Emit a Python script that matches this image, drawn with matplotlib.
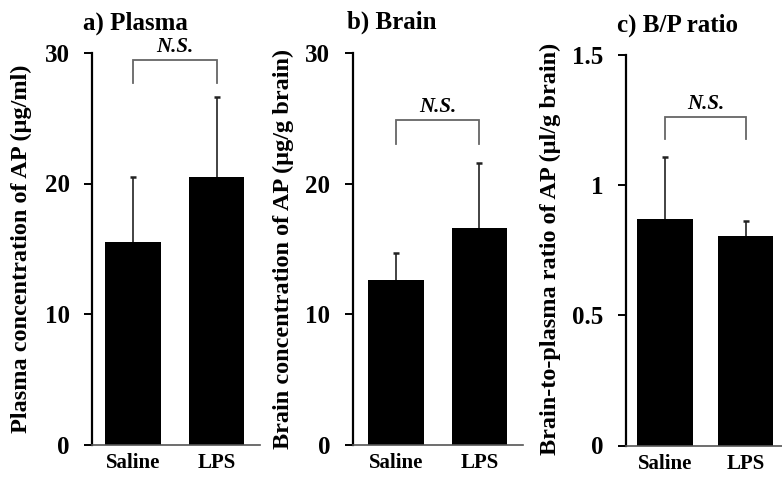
import matplotlib
matplotlib.use("Agg")
import matplotlib.pyplot as plt

# ---- data ----
groups = ["Saline", "LPS"]
plasma_mean = [15.5, 20.5]
plasma_sd = [5.0, 6.1]
brain_mean = [12.6, 16.6]
brain_sd = [2.1, 5.0]
ratio_mean = [0.87, 0.805]
ratio_sd = [0.24, 0.057]

titles = ["a) Plasma", "b) Brain", "c) B/P ratio"]
ylabels = ["Plasma concentration of AP (\u00b5g/ml)",
           "Brain concentration of AP (\u00b5g/g brain)",
           "Brain-to-plasma ratio of AP (\u00b5l/g brain)"]
yticks_list = [[0, 10, 20, 30], [0, 10, 20, 30], [0, 0.5, 1, 1.5]]
yticklabels_list = [["0", "10", "20", "30"], ["0", "10", "20", "30"], ["0", "0.5", "1", "1.5"]]
sig_label = "N.S."

W, H, DPI = 782, 480, 100
fig = plt.figure(figsize=(W / DPI, H / DPI), dpi=DPI)
fig.patch.set_facecolor("white")

SERIF = ["Liberation Serif", "DejaVu Serif"]


def px_axes(left, right, bottom_y, top_y):
    return fig.add_axes([left / W, (H - bottom_y) / H, (right - left) / W, (bottom_y - top_y) / H])


panels = [
    dict(box=(92, 260, 444.5, 53), xlim=(-0.49, 1.52), width=0.665, ylim=(0, 30),
         means=plasma_mean, sds=plasma_sd, br=(29.5, 27.7), title_xy=(83, 23), ylab_x=21),
    dict(box=(352.5, 523, 445, 53), xlim=(-0.521, 1.521), width=0.67, ylim=(0, 30),
         means=brain_mean, sds=brain_sd, br=(24.9, 23.0), title_xy=(347, 22), ylab_x=283),
    dict(box=(625.5, 782, 445.5, 55), xlim=(-0.489, 1.45), width=0.688, ylim=(0, 1.5),
         means=ratio_mean, sds=ratio_sd, br=(1.262, 1.178), title_xy=(617, 25), ylab_x=550),
]

for i, p in enumerate(panels):
    ax = px_axes(*p["box"])
    x = list(range(len(groups)))
    ax.bar(x, p["means"], width=p["width"], color="black", edgecolor="none", zorder=2)
    eb = ax.errorbar(x, p["means"], yerr=[[0] * len(groups), p["sds"]], fmt="none",
                     ecolor="#222222", elinewidth=1.2, capsize=2.2, capthick=1.8, zorder=1)
    caplines = eb[1]
    if len(caplines) == 2:
        caplines[0].set_visible(False)
    ax.set_xlim(*p["xlim"])
    ax.set_ylim(*p["ylim"])
    ax.set_yticks(yticks_list[i])
    ax.set_yticklabels(yticklabels_list[i], family=SERIF, fontweight="bold", fontsize=18)
    ax.set_xticks(x)
    ax.set_xticklabels(groups, family=SERIF, fontweight="bold", fontsize=15)
    ax.tick_params(axis="y", length=6, width=1.4, pad=10, direction="out", colors="black")
    ax.tick_params(axis="x", length=0, pad=6)
    for s in ["top", "right"]:
        ax.spines[s].set_visible(False)
    ax.spines["left"].set_linewidth(1.6)
    ax.spines["left"].set_color("black")
    ax.spines["bottom"].set_linewidth(1.2)
    ax.spines["bottom"].set_color("#555555")
    ax.patch.set_alpha(0)

    # significance bracket
    top, leg = p["br"]
    ax.plot([0, 0, 1, 1], [leg, top, top, leg], color="#666666", lw=1.3, clip_on=False,
            solid_joinstyle="miter")
    ax.annotate(sig_label, xy=(0.5, top), xytext=(0, 2), textcoords="offset points",
                ha="center", va="bottom", family=SERIF, style="italic", fontweight="bold",
                fontsize=15, annotation_clip=False)

    # title and y label
    tx, ty = p["title_xy"]
    fig.text(tx / W, 1 - ty / H, titles[i], ha="left", va="center", family=SERIF,
             fontweight="bold", fontsize=18)
    fig.text(p["ylab_x"] / W, 1 - 249 / H, ylabels[i], rotation=90, ha="center", va="center",
             family=SERIF, fontweight="bold", fontsize=17.5)

fig.savefig("out.png", dpi=DPI, facecolor="white")
